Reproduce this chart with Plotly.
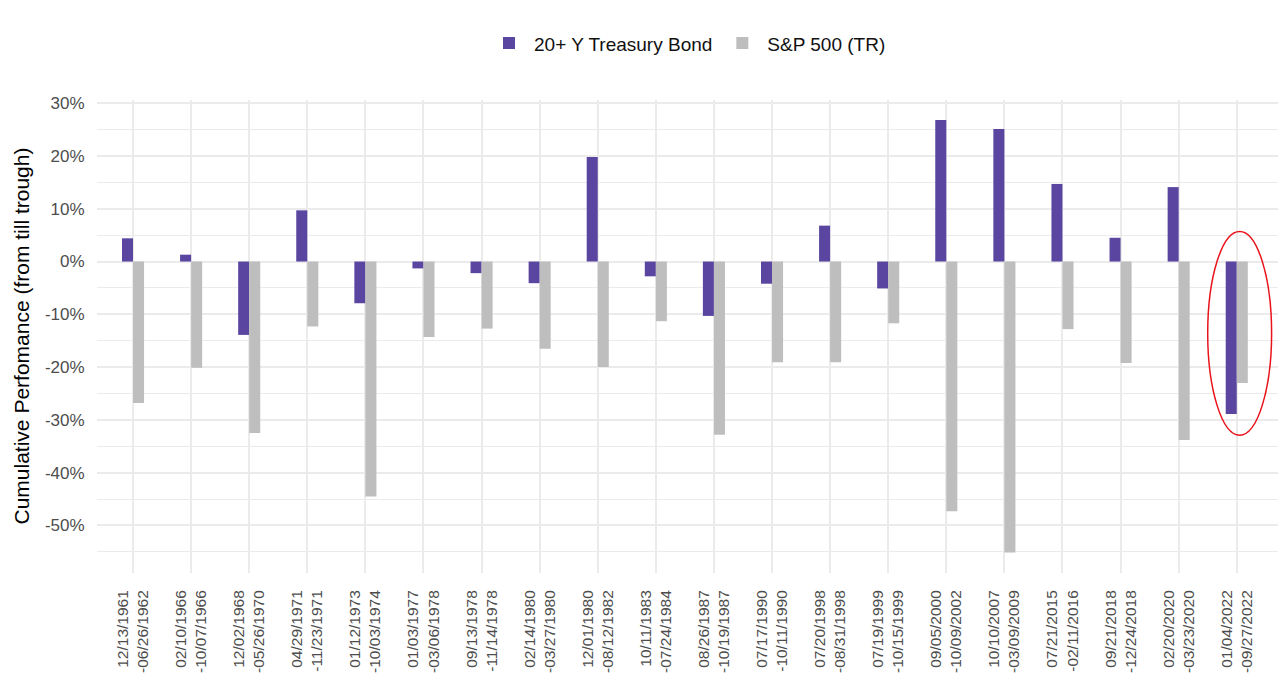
import plotly.graph_objects as go

start_dates = ["12/13/1961", "02/10/1966", "12/02/1968", "04/29/1971", "01/12/1973",
               "01/03/1977", "09/13/1978", "02/14/1980", "12/01/1980", "10/11/1983",
               "08/26/1987", "07/17/1990", "07/20/1998", "07/19/1999", "09/05/2000",
               "10/10/2007", "07/21/2015", "09/21/2018", "02/20/2020", "01/04/2022"]
end_dates = ["06/26/1962", "10/07/1966", "05/26/1970", "11/23/1971", "10/03/1974",
             "03/06/1978", "11/14/1978", "03/27/1980", "08/12/1982", "07/24/1984",
             "10/19/1987", "10/11/1990", "08/31/1998", "10/15/1999", "10/09/2002",
             "03/09/2009", "02/11/2016", "12/24/2018", "03/23/2020", "09/27/2022"]

bond = [4.4, 1.3, -13.9, 9.7, -7.9, -1.3, -2.2, -4.1, 19.8, -2.8,
        -10.3, -4.2, 6.8, -5.1, 26.8, 25.1, 14.7, 4.5, 14.1, -28.9]
sp500 = [-26.8, -20.1, -32.5, -12.3, -44.5, -14.3, -12.7, -16.5, -20.0, -11.3,
         -32.8, -19.1, -19.1, -11.7, -47.3, -55.1, -12.8, -19.2, -33.8, -23.0]

y_ticks = [30, 20, 10, 0, -10, -20, -30, -40, -50]
y_tick_labels = [f"{v}%" for v in y_ticks]

categories = [f"{s}<br>-{e}" for s, e in zip(start_dates, end_dates)]

BOND_COLOR = "#5a46a0"
SP_COLOR = "#bebebe"
GRID = "#ebebeb"
FONT = "Liberation Sans, Arial, Helvetica, sans-serif"

ML, MR, MT, MB = 97, 2, 100, 119
W, H = 1280, 692

fig = go.Figure()
fig.add_trace(go.Bar(name="20+ Y Treasury Bond", x=categories, y=bond,
                     marker=dict(color=BOND_COLOR, line=dict(width=0))))
fig.add_trace(go.Bar(name="S&P 500 (TR)", x=categories, y=sp500,
                     marker=dict(color=SP_COLOR, line=dict(width=0))))

# highlight ellipse around the latest episode
n = len(categories) - 1
lo = min(bond[-1], sp500[-1], 0)
hi = max(bond[-1], sp500[-1], 0)
fig.add_shape(type="circle", xref="x", yref="y",
              x0=n - 0.5, x1=n + 0.6, y0=lo - 4.0, y1=hi + 5.7,
              line=dict(color="#e8141c", width=1.5), fillcolor="rgba(0,0,0,0)",
              layer="above")

# y-axis title as annotation (fixed margins)
fig.add_annotation(text="Cumulative Perfomance (from till trough)",
                   xref="paper", yref="paper",
                   x=-(ML - 21) / (W - ML - MR), y=0.5,
                   xanchor="center", yanchor="middle", textangle=-90,
                   showarrow=False, font=dict(size=21, color="#000000"))

fig.update_layout(
    width=W, height=H,
    paper_bgcolor="white", plot_bgcolor="white",
    margin=dict(l=ML, r=MR, t=MT, b=MB),
    barmode="group", bargap=0.62, bargroupgap=0,
    font=dict(family=FONT, color="#000000"),
    showlegend=True,
    legend=dict(orientation="h", x=0.5, xanchor="center", y=1.12, yanchor="middle",
                font=dict(size=19, color="#111111"),
                itemwidth=40, traceorder="normal"),
    xaxis=dict(
        type="category", range=[-0.62, n + 0.71], automargin=False,
        tickangle=-90, tickfont=dict(size=15.5, color="#4d4d4d"),
        showgrid=True, gridcolor=GRID, gridwidth=1.5,
        ticks="outside", ticklen=10, tickcolor="rgba(0,0,0,0)",
        showline=False, zeroline=False,
    ),
    yaxis=dict(
        range=[-59, 30.6], automargin=False,
        tickvals=y_ticks, ticktext=y_tick_labels,
        tickfont=dict(size=17, color="#4d4d4d"),
        showgrid=True, gridcolor=GRID, gridwidth=1.5,
        minor=dict(dtick=5, tick0=5, showgrid=True, gridcolor=GRID, gridwidth=1),
        ticks="outside", ticklen=8, tickcolor="rgba(0,0,0,0)",
        zeroline=False, showline=False,
    ),
)

fig.write_html("out.html", config={"displayModeBar": False},
               post_script="document.body.style.margin='0';document.body.style.overflow='hidden';")
